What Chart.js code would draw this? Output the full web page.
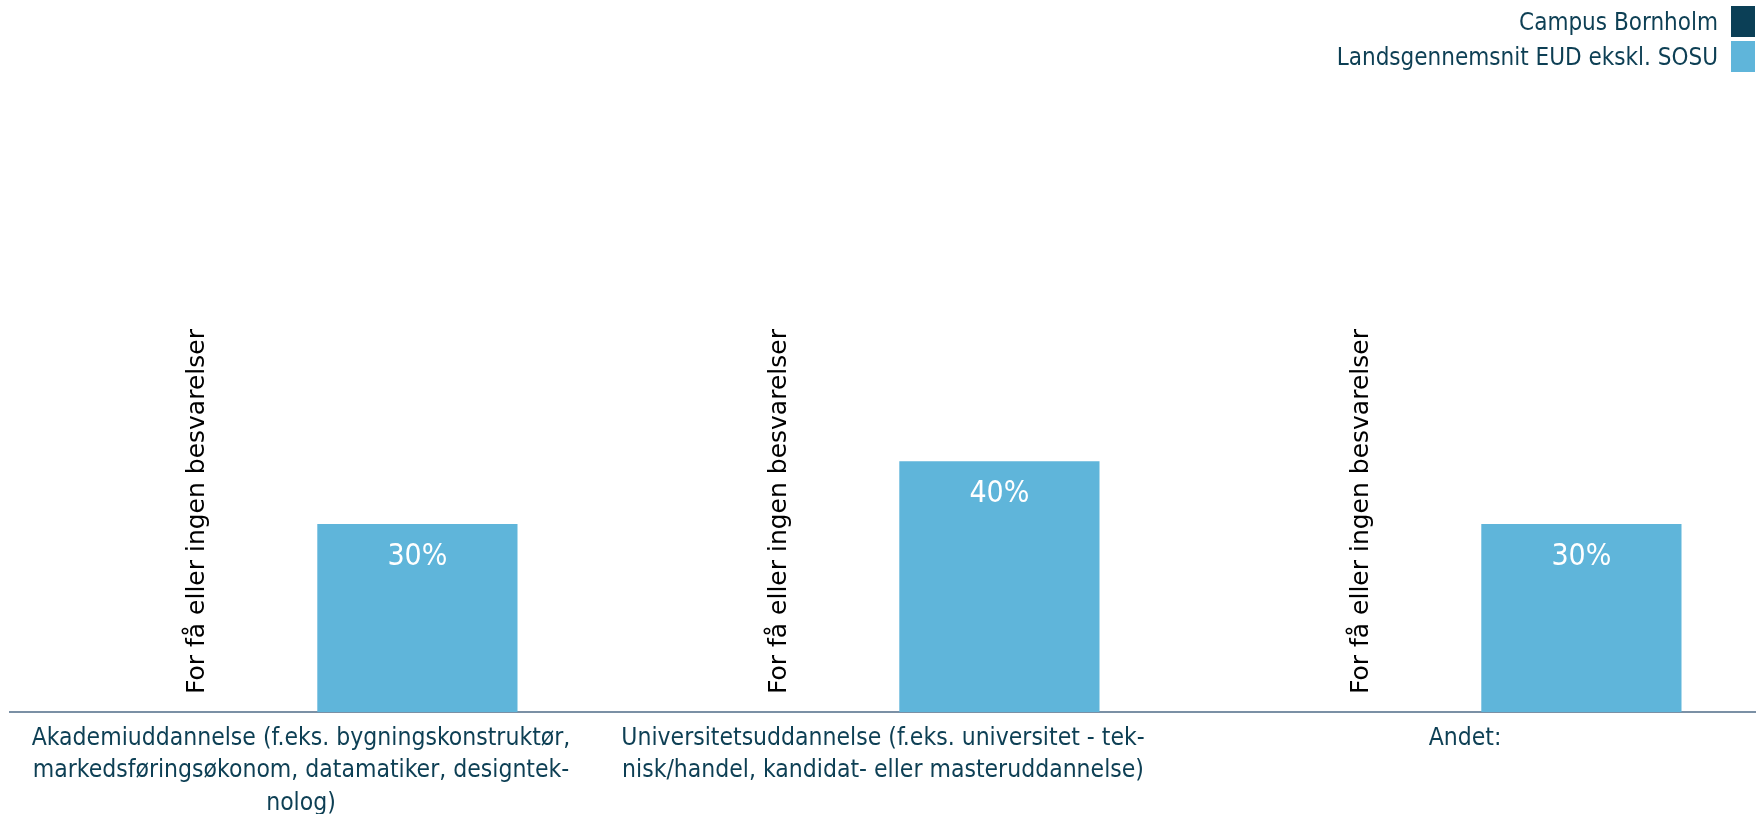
<!DOCTYPE html>
<html lang="da">
<head>
    <meta charset="UTF-8">
    <title>Videre uddannelse</title>
    <script src="https://cdn.jsdelivr.net/npm/chart.js"></script>
    <style>
        body {
            margin: 0;
            background: #fff;
            font-family: "DejaVu Sans Condensed", "DejaVu Sans", sans-serif;
        }

        .wrap {
            position: relative;
            width: 1756px;
            height: 814px;
        }

        .legend {
            position: absolute;
            top: 4px;
            right: 1px;
            list-style: none;
            margin: 0;
            padding: 0;
        }

        .legend li {
            display: flex;
            justify-content: flex-end;
            align-items: center;
            height: 35px;
            color: #0d3f54;
            font-size: 24px;
        }

        .legend span.box {
            display: inline-block;
            width: 24px;
            height: 31px;
            margin-left: 13px;
        }
    </style>
</head>
<body>
    <div class="wrap">
        <canvas id="chart" width="1756" height="814"></canvas>
        <ul class="legend" id="legend"></ul>
    </div>

    <script>
        // Data
        const categories = [
            ['Akademiuddannelse (f.eks. bygningskonstruktør,', 'markedsføringsøkonom, datamatiker, designtek-', 'nolog)'],
            ['Universitetsuddannelse (f.eks. universitet - tek-', 'nisk/handel, kandidat- eller masteruddannelse)'],
            ['Andet:']
        ];
        const seriesNames = ['Campus Bornholm', 'Landsgennemsnit EUD ekskl. SOSU'];
        const campusValues = [null, null, null];
        const nationalValues = [30, 40, 30];
        const noDataText = 'For få eller ingen besvarelser';

        const colors = ['#0b3f56', '#5fb5da'];

        // labels i søjlerne + tekst for manglende data
        const barLabels = {
            id: 'barLabels',
            afterDatasetsDraw(chart) {
                const ctx = chart.ctx;
                const bottom = chart.chartArea.bottom;
                chart.data.datasets.forEach((ds, di) => {
                    const meta = chart.getDatasetMeta(di);
                    meta.data.forEach((bar, i) => {
                        const v = ds.data[i];
                        ctx.save();
                        if (v === null || v === undefined) {
                            ctx.translate(bar.x + 13, bottom - 18);
                            ctx.rotate(-Math.PI / 2);
                            ctx.fillStyle = '#000';
                            ctx.font = '25px "DejaVu Sans"';
                            ctx.textAlign = 'left';
                            ctx.textBaseline = 'middle';
                            ctx.fillText(noDataText, 0, 0);
                        } else {
                            ctx.fillStyle = '#fff';
                            ctx.font = '30px "DejaVu Sans Condensed"';
                            ctx.textAlign = 'center';
                            ctx.textBaseline = 'middle';
                            ctx.fillText(v + '%', bar.x, bar.y + 33);
                        }
                        ctx.restore();
                    });
                });
            }
        };

        const chart = new Chart(document.getElementById('chart'), {
            type: 'bar',
            data: {
                labels: categories,
                datasets: [
                    {
                        label: seriesNames[0],
                        data: campusValues,
                        backgroundColor: colors[0]
                    },
                    {
                        label: seriesNames[1],
                        data: nationalValues,
                        backgroundColor: colors[1]
                    }
                ]
            },
            options: {
                responsive: false,
                animation: false,
                events: [],
                layout: {
                    padding: { left: 10, top: 85, right: 0, bottom: 0 }
                },
                categoryPercentage: 0.8,
                barPercentage: 0.86,
                plugins: {
                    legend: { display: false },
                    tooltip: { enabled: false }
                },
                scales: {
                    x: {
                        grid: { display: false, drawTicks: false },
                        border: { display: true, color: '#7b90a5', width: 2 },
                        ticks: {
                            color: '#0d3f54',
                            font: { family: '"DejaVu Sans Condensed"', size: 24.5, lineHeight: 1.33 },
                            padding: 10,
                            autoSkip: false,
                            maxRotation: 0,
                            minRotation: 0
                        },
                        afterFit(scale) {
                            scale.height = 102;
                        }
                    },
                    y: {
                        display: false,
                        min: 0,
                        max: 100
                    }
                }
            },
            plugins: [barLabels]
        });

        // legend
        const legend = document.getElementById('legend');
        chart.data.datasets.forEach(ds => {
            const li = document.createElement('li');
            li.innerHTML = '<span>' + ds.label + '</span><span class="box" style="background:' + ds.backgroundColor + '"></span>';
            legend.appendChild(li);
        });
    </script>
</body>
</html>
